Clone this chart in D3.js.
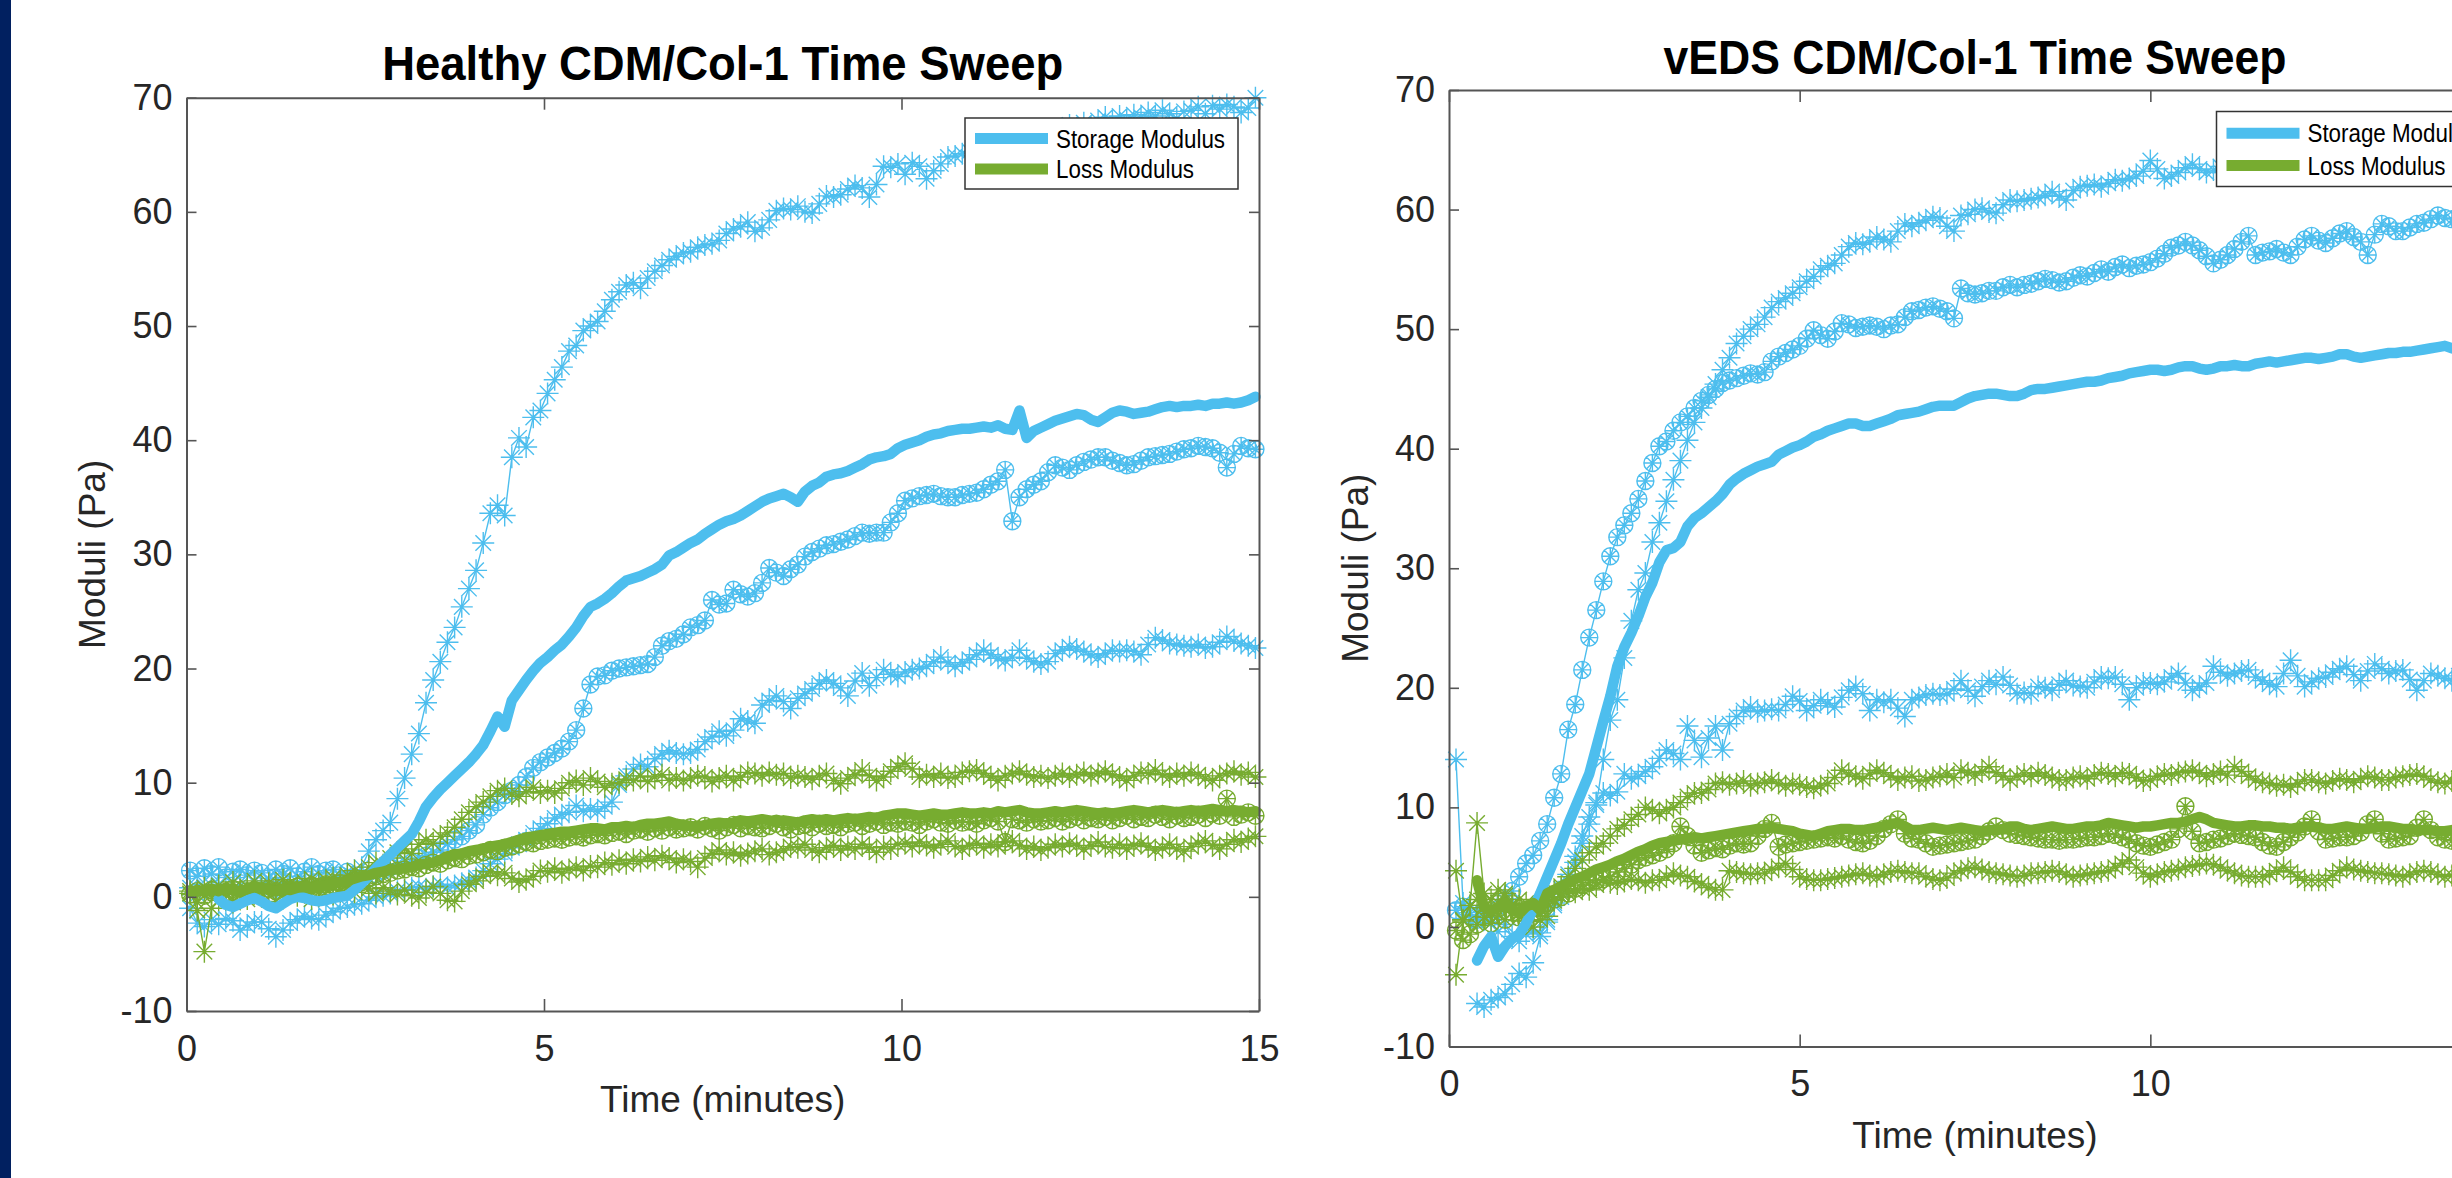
<!DOCTYPE html>
<html>
<head>
<meta charset="utf-8">
<script src="https://cdn.jsdelivr.net/npm/d3@7"></script>
<style>
  body { margin: 0; background: #fff; }
  svg { display: block; }
</style>
</head>
<body>
<div id="chart"></div>
<script>
// Rheometer readings, one every 0.1 min; each series keeps its own start time
const SAMPLE_STEP = 0.1;
const xTicks = [0, 5, 10, 15];
const yTicks = [-10, 0, 10, 20, 30, 40, 50, 60, 70];
const legendLabels = ["Storage Modulus", "Loss Modulus"];

// ---- Healthy CDM/Col-1 ----
const healthyThinStart = 0.05;
const healthyStorMeanStart = 0.45;
const healthyLossMeanStart = 0.05;

// storage, sample A (asterisk, highest)
const healthyStorA = [
  0.8, 0.2, 0.9, 0.4, 1.1, 0.3, 0.7, 1.0, 0.2, 0.6,
  0.9, 0.4, 1.2, 0.5, 0.8, 1.3, 0.6, 1.0, 0.7, 1.2,
  1.0, 1.4, 1.2, 1.8, 2.6, 4.0, 5.0, 5.8, 6.5, 8.6,
  10.4, 12.5, 14.3, 17.0, 19.0, 20.6, 22.3, 23.6, 25.4, 27.0,
  28.6, 31.0, 33.6, 34.3, 33.4, 38.5, 40.2, 39.4, 42.0, 42.6,
  44.1, 45.3, 46.4, 47.8, 48.3, 49.6, 50.0, 50.4, 51.3, 52.3,
  53.0, 53.6, 53.8, 53.3, 54.2, 54.8, 55.3, 55.8, 56.1, 56.4,
  56.5, 56.9, 57.1, 57.2, 57.5, 58.1, 58.5, 58.7, 59.1, 58.3,
  58.6, 59.3, 60.1, 60.3, 60.2, 60.5, 60.0, 59.9, 60.7, 61.4,
  61.3, 61.5, 62.0, 62.3, 62.1, 61.3, 62.4, 64.0, 63.9, 64.2,
  63.3, 64.3, 64.0, 62.9, 63.6, 64.2, 64.8, 64.9, 65.1, 65.3,
  65.6, 65.4, 65.9, 66.1, 65.8, 66.3, 66.5, 66.2, 66.7, 66.9,
  66.6, 67.1, 67.3, 67.6, 67.2, 67.8, 67.5, 68.0, 68.3, 67.9,
  68.4, 68.1, 68.5, 68.3, 68.7, 68.4, 68.9, 68.6, 68.2, 68.8,
  68.9, 69.2, 68.6, 69.3, 69.0, 69.4, 69.2, 68.7, 69.1, 70.0
];
// storage, sample B (circle)
const healthyStorB = [
  2.3, 1.8, 2.5, 2.0, 2.6, 1.7, 2.2, 2.4, 1.9, 2.3,
  2.1, 1.6, 2.4, 2.0, 2.5, 1.8, 2.2, 2.6, 2.0, 2.3,
  2.4, 1.9, 2.2, 1.7, 1.4, 1.6, 2.0, 2.3, 2.6, 2.9,
  3.1, 3.0, 3.4, 3.6, 3.9, 4.1, 4.6, 5.0, 5.3, 5.8,
  6.3, 7.2, 7.8, 8.3, 8.9, 9.3, 9.8, 10.5, 11.3, 11.8,
  12.2, 12.6, 13.0, 13.6, 14.6, 16.5, 18.6, 19.3, 19.4, 19.8,
  20.0, 20.1, 20.2, 20.3, 20.4, 21.0, 22.0, 22.4, 22.6, 23.0,
  23.6, 23.8, 24.2, 26.0, 25.6, 25.7, 26.9, 26.5, 26.3, 26.6,
  27.5, 28.8, 28.4, 28.1, 28.7, 29.1, 29.8, 30.2, 30.5, 30.8,
  30.9, 31.1, 31.3, 31.6, 31.9, 31.8, 31.9, 31.9, 32.8, 33.6,
  34.7, 34.9, 35.1, 35.2, 35.3, 35.1, 35.0, 35.0, 35.2, 35.3,
  35.4, 35.7, 36.1, 36.4, 37.4, 32.9, 35.0, 35.7, 36.1, 36.4,
  37.2, 37.8, 37.6, 37.4, 37.8, 38.1, 38.3, 38.5, 38.5, 38.2,
  38.0, 37.8, 37.9, 38.2, 38.5, 38.6, 38.7, 38.8, 39.0, 39.2,
  39.3, 39.5, 39.4, 39.3, 38.9, 37.6, 38.8, 39.5, 39.3, 39.2
];
// storage, sample C (asterisk, lowest)
const healthyStorC = [
  -1.0, -2.3, -2.6, -2.0, -2.4, -1.9, -2.1, -2.9, -2.5, -2.2,
  -2.2, -2.8, -3.5, -2.9, -2.3, -2.0, -1.7, -1.9, -2.0, -1.6,
  -1.3, -1.0, -0.9, -0.7, -0.6, -0.3, 0.0, 0.1, 0.3, 0.5,
  0.6, 0.8, 0.9, 0.7, 0.9, 1.1, 0.8, 1.0, 1.2, 1.4,
  1.7, 2.3, 2.9, 3.3, 3.8, 4.3, 4.6, 5.0, 5.6, 6.0,
  6.4, 6.9, 7.2, 7.4, 8.0, 7.5, 7.7, 7.5, 7.9, 8.3,
  9.8, 10.6, 11.2, 11.6, 11.4, 12.1, 12.5, 12.8, 12.6, 12.5,
  12.6, 12.9, 13.6, 14.0, 14.5, 14.1, 14.6, 15.6, 15.4, 15.2,
  16.8, 17.2, 17.6, 17.1, 16.5, 17.4, 17.8, 18.2, 18.7, 19.0,
  18.7, 18.3, 17.6, 18.9, 19.6, 18.5, 19.2, 19.9, 19.5, 19.3,
  19.7, 19.9, 20.0, 20.2, 20.6, 21.0, 20.5, 20.2, 20.5, 20.8,
  21.2, 21.6, 21.2, 20.9, 20.7, 21.0, 21.6, 20.9, 20.6, 20.4,
  20.6, 21.3, 21.6, 21.9, 21.7, 21.5, 21.2, 21.0, 21.3, 21.6,
  21.5, 21.6, 21.5, 21.2, 22.1, 22.7, 22.5, 22.2, 22.1, 22.0,
  21.9, 22.1, 21.8, 21.9, 22.3, 22.8, 22.4, 22.2, 22.0, 21.8
];
// storage mean (thick)
const healthyStorMean = [
  -0.2, -0.7, -0.9, -0.6, -0.3, -0.1,
  -0.4, -0.8, -1.0, -0.6, -0.2, 0.0, -0.1, -0.3, -0.4, -0.3,
  -0.1, 0.0, 0.1, 0.6, 1.2, 1.8, 2.5, 3.1, 3.7, 4.3,
  4.9, 5.5, 6.6, 7.9, 8.7, 9.4, 10.0, 10.6, 11.2, 11.8,
  12.5, 13.3, 14.5, 15.8, 14.9, 17.2, 18.1, 19.0, 19.8, 20.5,
  21.0, 21.6, 22.1, 22.8, 23.6, 24.6, 25.4, 25.7, 26.1, 26.6,
  27.2, 27.7, 27.9, 28.1, 28.4, 28.7, 29.1, 29.9, 30.2, 30.6,
  31.0, 31.3, 31.8, 32.2, 32.6, 32.9, 33.1, 33.4, 33.8, 34.2,
  34.6, 34.9, 35.1, 35.3, 35.0, 34.6, 35.5, 36.0, 36.3, 36.8,
  37.0, 37.1, 37.3, 37.6, 37.9, 38.3, 38.5, 38.6, 38.8, 39.3,
  39.6, 39.8, 40.0, 40.3, 40.5, 40.6, 40.8, 40.9, 41.0, 41.0,
  41.1, 41.2, 41.1, 41.3, 41.0, 40.9, 42.6, 40.2, 40.8, 41.1,
  41.4, 41.7, 41.9, 42.1, 42.3, 42.2, 41.8, 41.6, 42.0, 42.4,
  42.6, 42.5, 42.3, 42.4, 42.5, 42.7, 42.9, 43.0, 42.9, 43.0,
  43.0, 43.1, 43.0, 43.2, 43.2, 43.3, 43.2, 43.3, 43.5, 43.8
];
// loss, sample A (asterisk, highest)
const healthyLossA = [
  0.3, -0.5, 0.8, 0.2, 1.0, 0.4, 1.3, 0.6, 0.9, 1.4,
  0.7, 1.2, 0.9, 1.5, 1.1, 0.8, 1.3, 1.6, 1.2, 1.5,
  1.7, 1.4, 1.9, 2.3, 2.0, 2.6, 3.0, 2.8, 3.4, 3.9,
  4.2, 3.8, 4.6, 5.0, 4.7, 5.3, 5.6, 6.1, 6.8, 7.4,
  7.9, 8.3, 8.8, 9.3, 9.5, 9.0, 8.8, 9.2, 9.6, 9.1,
  9.3, 9.1, 9.5, 10.0, 10.2, 9.8, 10.4, 10.1, 9.6, 9.9,
  10.0, 10.3, 10.2, 10.6, 10.1, 10.5, 10.7, 10.2, 10.4, 10.2,
  10.4, 10.6, 10.5, 10.1, 10.4, 10.6, 10.2, 10.5, 10.9, 10.8,
  10.6, 10.9, 10.7, 10.8, 10.4, 10.6, 10.5, 10.3, 10.6, 10.8,
  10.2, 9.9, 10.4, 10.7, 11.1, 10.6, 10.2, 10.5, 11.0, 11.4,
  11.7, 11.2, 10.5, 10.7, 10.5, 10.8, 10.4, 10.5, 10.9, 11.0,
  11.1, 10.8, 10.5, 10.2, 10.6, 10.8, 11.0, 10.7, 10.5, 10.6,
  10.4, 10.6, 10.8, 10.5, 10.7, 10.9, 10.6, 10.8, 11.0, 10.7,
  10.5, 10.2, 10.6, 10.9, 10.8, 11.1, 10.7, 10.5, 10.8, 10.6,
  10.9, 10.7, 10.4, 10.2, 10.6, 10.8, 11.0, 10.7, 10.9, 10.5
];
// loss, sample B (circle)
const healthyLossB = [
  0.2, 0.5, 0.1, 0.6, 0.3, 0.4, 0.7, 0.2, 0.5, 0.6,
  0.4, 0.7, 0.5, 0.8, 0.6, 0.9, 0.7, 1.0, 0.8, 1.1,
  1.0, 1.2, 1.1, 1.4, 1.3, 1.6, 1.8, 2.0, 2.1, 2.3,
  2.4, 2.6, 2.5, 2.8, 3.0, 2.9, 3.2, 3.4, 3.3, 3.6,
  3.7, 3.9, 4.1, 4.0, 4.3, 4.4, 4.6, 4.8, 4.7, 4.9,
  5.0, 5.1, 5.0, 5.2, 5.3, 5.2, 5.4, 5.5, 5.4, 5.6,
  5.7, 5.5, 5.8, 5.9, 5.7, 6.0, 5.8, 6.1, 5.9, 6.0,
  6.1, 5.9, 6.2, 6.0, 5.8, 6.1, 6.3, 6.0, 6.2, 6.1,
  6.0, 6.2, 6.4, 6.1, 5.9, 6.2, 6.3, 6.1, 6.4, 6.2,
  6.3, 6.1, 6.4, 6.5, 6.2, 6.4, 6.6, 6.3, 6.5, 6.4,
  6.6, 6.5, 6.3, 6.6, 6.8, 6.5, 6.4, 6.7, 6.5, 6.6,
  6.4, 6.7, 6.9, 6.6, 4.8, 6.8, 6.7, 6.5, 6.8, 6.6,
  6.7, 6.9, 6.6, 6.8, 7.0, 6.7, 6.9, 6.8, 7.0, 6.7,
  6.9, 7.1, 6.8, 7.0, 6.9, 7.2, 7.0, 6.8, 7.1, 6.9,
  7.0, 7.2, 6.9, 7.3, 7.1, 8.6, 7.0, 7.2, 7.4, 7.1
];
// loss, sample C (asterisk, lowest)
const healthyLossC = [
  0.5, -1.2, -4.8, -1.0, -0.3, 0.2, -0.5, 0.4, -0.2, 0.3,
  0.0, 0.6, -0.4, 0.3, 0.8, 0.1, 0.5, -0.2, 0.4, 0.7,
  0.2, 0.6, 0.9, 0.4, 1.0, 0.7, 0.3, 0.8, 0.5, 0.2,
  0.6, 0.1, -0.1, 0.4, 0.9, 0.3, -0.3, -0.4, 0.5, 1.1,
  1.4, 1.8, 2.2, 1.9, 2.1, 1.6, 1.3, 1.5, 1.8, 2.3,
  2.2, 2.5, 2.1, 2.4, 2.6, 2.3, 2.7, 2.6, 3.0, 2.8,
  3.2, 2.9, 3.3, 3.1, 3.5, 3.2, 3.6, 3.4, 3.0, 3.3,
  3.1, 2.6, 3.4, 3.8, 4.1, 3.7, 3.9, 3.6, 3.8, 4.0,
  4.2, 3.7, 3.9, 4.1, 4.4, 4.3, 4.6, 4.1, 3.9, 4.3,
  4.5, 4.1, 4.4, 4.2, 4.6, 4.3, 3.9, 4.4, 4.2, 4.6,
  4.7, 4.4, 4.8, 4.5, 4.3, 4.6, 4.9, 4.4, 4.2, 4.5,
  4.7, 4.3, 4.6, 4.4, 4.8, 4.9, 4.5, 4.2, 4.4, 4.1,
  4.3, 4.6, 4.4, 4.7, 4.5, 4.2, 4.5, 4.8, 4.4, 4.3,
  4.6, 4.2, 4.5, 4.7, 4.4, 4.1, 4.3, 4.6, 4.2, 4.0,
  4.4, 4.7, 4.9, 4.5, 4.2, 4.6, 5.0, 4.8, 5.1, 5.3
];
// loss mean (thick)
const healthyLossMean = [
  0.4, 0.6, 0.5, 0.7, 0.5, 0.8, 0.6, 0.4, 0.7, 0.9,
  0.8, 0.6, 0.5, 0.7, 0.6, 0.8, 0.9, 0.7, 1.0, 1.0,
  1.1, 1.3, 1.4, 1.6, 1.8, 1.9, 2.1, 2.2, 2.4, 2.4,
  2.5, 2.6, 2.8, 2.9, 3.0, 3.2, 3.5, 3.7, 3.8, 4.0,
  4.1, 4.2, 4.4, 4.5, 4.6, 4.8, 5.0, 5.2, 5.3, 5.4,
  5.5, 5.6, 5.7, 5.7, 5.8, 5.9, 6.0, 6.0, 5.9, 6.1,
  6.1, 6.2, 6.1, 6.3, 6.4, 6.4, 6.5, 6.6, 6.4, 6.3,
  6.2, 6.1, 6.3, 6.4, 6.5, 6.4, 6.5, 6.7, 6.6, 6.7,
  6.8, 6.7, 6.6, 6.7, 6.6, 6.5, 6.7, 6.8, 6.7, 6.8,
  6.7, 6.8, 6.9, 6.8, 6.9, 7.0, 6.9, 7.1, 7.2, 7.3,
  7.3, 7.2, 7.1, 7.2, 7.3, 7.2, 7.2, 7.3, 7.4, 7.3,
  7.3, 7.4, 7.3, 7.5, 7.4, 7.5, 7.6, 7.4, 7.3, 7.3,
  7.4, 7.5, 7.4, 7.5, 7.6, 7.5, 7.4, 7.3, 7.4, 7.3,
  7.4, 7.5, 7.6, 7.5, 7.4, 7.5, 7.6, 7.5, 7.4, 7.5,
  7.6, 7.5, 7.6, 7.7, 7.6, 7.5, 7.6, 7.5, 7.4, 7.5
];

// ---- vEDS CDM/Col-1 ----
const vedsThinStart = 0.1;
const vedsLateStart = 0.4;

// storage, sample A (asterisk, highest)
const vedsStorA = [
  -6.4, -6.7, -6.1, -5.9, -5.6, -4.8, -3.9,
  -4.2, -3.0, -0.8, 0.6, 1.8, 2.5, 3.8, 5.4, 7.0, 8.6,
  10.2, 14.0, 17.3, 19.0, 22.5, 25.6, 28.2, 29.6, 32.2, 33.8,
  35.6, 37.4, 39.0, 40.7, 42.2, 43.4, 44.3, 45.4, 46.6, 47.6,
  48.8, 49.4, 50.0, 50.4, 51.0, 51.8, 52.3, 52.6, 53.0, 53.5,
  54.0, 54.4, 55.0, 55.3, 55.5, 56.2, 56.9, 57.2, 57.1, 57.3,
  57.7, 57.5, 57.3, 58.2, 58.8, 58.6, 58.9, 59.1, 59.4, 59.3,
  58.6, 58.2, 59.5, 59.6, 60.0, 60.1, 59.8, 59.7, 60.4, 60.8,
  60.7, 60.8, 60.9, 61.0, 61.2, 61.5, 61.1, 60.8, 61.6, 61.9,
  62.0, 62.1, 61.9, 62.2, 62.5, 62.4, 62.6, 62.8, 63.2, 64.1,
  63.4, 62.6, 62.8, 63.1, 63.5, 63.8, 63.4, 63.1, 63.3, 63.6,
  63.4, 63.8, 64.0, 63.7, 64.1, 63.9, 64.3, 64.1, 64.4, 64.2,
  64.6, 64.2, 64.7, 64.4, 64.9, 64.3, 64.8, 65.0, 64.6, 64.9,
  65.0, 64.8, 65.1, 64.9, 65.2, 65.0, 65.3, 65.1, 65.4, 65.2,
  65.5, 65.3, 65.6, 65.4
];
// storage, sample B (circle)
const vedsStorB = [
  1.4, 1.7, 1.0, 0.6, 1.2, 0.8, 1.5, 2.2, 3.0, 4.2,
  5.3, 6.0, 7.2, 8.6, 10.8, 12.8, 16.5, 18.6, 21.5, 24.2,
  26.5, 28.9, 31.0, 32.6, 33.6, 34.6, 35.8, 37.3, 38.8, 40.2,
  40.6, 41.5, 42.2, 42.7, 43.4, 44.0, 44.5, 45.0, 45.5, 45.7,
  45.9, 46.1, 46.3, 46.2, 46.4, 47.3, 47.7, 48.0, 48.3, 48.6,
  49.2, 49.9, 49.5, 49.2, 49.8, 50.5, 50.4, 50.1, 50.2, 50.3,
  50.2, 50.0, 50.3, 50.4, 51.0, 51.5, 51.6, 51.8, 51.9, 51.7,
  51.5, 50.9, 53.4, 53.0, 52.9, 53.0, 53.2, 53.2, 53.5, 53.7,
  53.5, 53.7, 53.8, 54.0, 54.2, 54.1, 53.9, 54.0, 54.3, 54.5,
  54.4, 54.7, 55.0, 54.8, 55.2, 55.4, 55.1, 55.3, 55.4, 55.6,
  55.9, 56.3, 56.8, 57.0, 57.3, 57.0, 56.6, 56.1, 55.5, 55.8,
  56.2, 56.7, 57.3, 57.8, 56.2, 56.4, 56.5, 56.7, 56.4, 56.2,
  56.9, 57.5, 57.8, 57.4, 57.2, 57.6, 58.0, 58.2, 57.7, 57.3,
  56.2, 57.9, 58.8, 58.6, 58.2, 58.2, 58.5, 58.8, 58.9, 59.2,
  59.5, 59.3, 59.2, 59.0
];
// storage, sample C (asterisk, lowest)
const vedsStorC = [
  14.0, 2.0, 1.2, 0.4, 1.0, 0.3, -0.4, 0.2, -0.8, -1.2,
  -0.6, -0.3, -0.5, 0.4, 2.0, 3.2, 4.4, 5.9, 7.6, 9.2,
  10.4, 11.2, 11.0, 11.3, 12.8, 12.4, 12.6, 13.0, 13.4, 14.1,
  14.8, 14.5, 14.0, 16.8, 15.6, 14.2, 15.8, 16.8, 14.8, 17.0,
  17.6, 18.1, 18.4, 18.0, 18.1, 18.2, 18.1, 18.6, 19.3, 18.9,
  18.1, 18.5, 19.0, 18.7, 18.4, 19.2, 19.8, 20.1, 19.5, 18.1,
  19.0, 18.8, 19.0, 18.3, 17.6, 19.0, 19.2, 19.4, 19.5, 19.4,
  19.5, 19.9, 20.6, 19.8, 19.3, 20.1, 20.6, 20.3, 20.9, 20.2,
  19.5, 19.6, 19.5, 20.1, 20.0, 19.8, 20.3, 20.6, 20.2, 20.1,
  20.0, 20.5, 20.9, 20.8, 20.9, 20.3, 19.0, 20.0, 20.4, 20.4,
  20.3, 20.5, 20.9, 21.2, 20.4, 19.8, 20.1, 20.4, 21.8, 21.3,
  21.0, 21.2, 21.4, 21.5, 20.9, 20.6, 20.3, 20.1, 21.2, 22.3,
  21.0, 20.1, 20.5, 20.8, 20.9, 21.3, 21.6, 21.8, 21.1, 20.6,
  21.4, 22.0, 21.6, 21.2, 21.4, 21.5, 20.7, 19.8, 20.6, 21.2,
  21.0, 20.8, 20.6, 21.0
];
// storage mean (thick)
const vedsStorMean = [
  -2.8, -1.6, -0.8, -2.5, -1.6, -1.0, -0.6,
  0.3, 1.5, 2.8, 4.2, 5.6, 7.0, 8.6, 10.0, 11.4, 12.8,
  15.0, 17.2, 19.3, 21.8, 23.4, 24.6, 26.0, 27.6, 28.8, 30.5,
  31.5, 31.7, 32.2, 33.5, 34.2, 34.6, 35.1, 35.6, 36.2, 37.0,
  37.5, 37.9, 38.2, 38.5, 38.7, 38.9, 39.5, 39.8, 40.1, 40.3,
  40.6, 41.0, 41.2, 41.5, 41.7, 41.9, 42.1, 42.1, 41.9, 41.9,
  42.1, 42.3, 42.5, 42.8, 42.9, 43.0, 43.1, 43.3, 43.5, 43.6,
  43.6, 43.6, 43.9, 44.2, 44.4, 44.5, 44.6, 44.6, 44.5, 44.4,
  44.4, 44.6, 44.9, 45.0, 45.0, 45.1, 45.2, 45.3, 45.4, 45.5,
  45.6, 45.6, 45.7, 45.9, 46.0, 46.1, 46.3, 46.4, 46.5, 46.6,
  46.6, 46.5, 46.6, 46.8, 46.9, 46.9, 46.7, 46.6, 46.7, 46.9,
  46.9, 47.0, 46.9, 46.9, 47.1, 47.2, 47.3, 47.2, 47.3, 47.4,
  47.5, 47.6, 47.6, 47.5, 47.6, 47.7, 47.9, 47.9, 47.7, 47.6,
  47.7, 47.8, 47.9, 48.0, 48.0, 48.1, 48.1, 48.2, 48.3, 48.4,
  48.5, 48.6, 48.4, 48.2
];
// loss, sample A (asterisk, highest)
const vedsLossA = [
  4.7, 0.5, 1.8, 8.7, 2.8, 2.3, 3.1, 2.6, 1.9, 2.3,
  2.0, 1.4, 1.8, 2.5, 3.0, 3.4, 4.2, 4.9, 5.6, 6.2,
  6.7, 7.0, 7.6, 8.2, 8.5, 9.0, 9.4, 10.0, 9.8, 9.5,
  9.8, 10.0, 10.4, 10.9, 11.2, 11.2, 11.5, 12.0, 12.1, 11.9,
  12.0, 12.2, 11.8, 12.0, 12.1, 12.3, 12.0, 11.8, 12.0, 11.9,
  11.7, 11.6, 11.8, 12.0, 12.5, 13.1, 12.8, 12.6, 12.4, 12.8,
  13.1, 12.9, 12.6, 12.3, 12.5, 12.6, 12.2, 12.3, 12.5, 12.6,
  12.8, 12.5, 13.1, 12.9, 12.7, 13.0, 13.4, 12.9, 12.6, 12.3,
  12.6, 12.8, 12.6, 12.9, 12.7, 12.5, 12.3, 12.3, 12.5, 12.6,
  12.4, 12.7, 12.9, 12.8, 12.6, 12.9, 12.8, 12.5, 12.2, 12.3,
  12.6, 12.8, 12.7, 12.9, 13.0, 13.1, 12.9, 12.6, 12.8, 13.0,
  12.7, 13.4, 13.0, 12.6, 12.3, 12.1, 12.0, 11.8, 11.9, 11.7,
  12.0, 12.3, 12.3, 12.1, 12.0, 12.2, 12.4, 12.3, 12.1, 12.4,
  12.6, 12.5, 12.3, 12.3, 12.5, 12.6, 12.7, 12.8, 12.6, 12.3,
  12.1, 12.0, 12.2, 12.4
];
// loss, sample B (circle)
const vedsLossB = [
  -0.3, -1.1, -0.6, 0.2, 0.8, 0.3, 1.0, 0.6, 1.2, 0.8,
  0.5, 1.1, 1.6, 2.0, 2.3, 2.5, 2.8, 3.2, 3.5, 3.7,
  3.9, 4.0, 4.2, 4.6, 4.9, 5.2, 5.6, 5.8, 6.0, 6.2,
  6.5, 7.0, 8.4, 7.6, 6.8, 6.2, 6.4, 6.6, 6.5, 6.8,
  7.0, 6.9, 7.0, 7.6, 8.2, 8.7, 6.7, 6.9, 7.0, 7.1,
  7.2, 7.3, 7.4, 7.5, 7.4, 7.6, 7.3, 7.1, 7.0, 7.2,
  7.6, 8.2, 8.6, 9.0, 7.8, 7.4, 7.3, 7.0, 6.7, 6.8,
  6.9, 7.0, 7.1, 7.2, 7.3, 7.6, 8.0, 8.4, 8.1, 7.8,
  7.7, 7.6, 7.5, 7.4, 7.3, 7.3, 7.2, 7.3, 7.3, 7.4,
  7.5, 7.5, 7.6, 7.8, 7.7, 7.5, 7.3, 7.0, 6.8, 6.7,
  6.9, 7.1, 7.3, 8.2, 10.1, 8.0, 7.0, 7.1, 7.3, 7.4,
  7.6, 7.8, 7.7, 7.6, 7.5, 7.1, 6.8, 6.7, 7.1, 7.5,
  7.9, 8.4, 9.0, 8.0, 7.3, 7.4, 7.5, 7.5, 7.6, 7.9,
  8.6, 9.0, 7.8, 7.3, 7.4, 7.5, 7.6, 8.3, 9.0, 8.1,
  7.5, 7.3, 7.2, 7.4
];
// loss, sample C (asterisk, lowest)
const vedsLossC = [
  -4.0, 0.6, 1.8, 2.3, 1.6, 1.1, 2.0, 2.8, 1.8, 1.1,
  0.5, 0.0, 0.6, 0.9, 2.2, 2.8, 3.1, 2.9, 3.2, 3.1,
  3.5, 3.9, 3.7, 3.6, 3.8, 4.0, 3.9, 3.7, 3.9, 3.9,
  4.2, 4.5, 4.3, 4.2, 3.8, 3.6, 3.3, 3.1, 3.1, 4.7,
  4.6, 4.5, 4.4, 4.5, 4.5, 4.8, 5.0, 5.3, 4.8, 4.2,
  4.0, 3.9, 3.9, 4.0, 4.1, 4.2, 4.3, 4.4, 4.5, 4.3,
  4.2, 4.4, 4.6, 4.7, 4.6, 4.5, 4.5, 4.2, 4.0, 3.9,
  4.1, 4.5, 4.7, 4.9, 5.0, 4.8, 4.6, 4.5, 4.4, 4.3,
  4.2, 4.3, 4.5, 4.5, 4.6, 4.7, 4.6, 4.4, 4.2, 4.3,
  4.4, 4.5, 4.6, 4.7, 5.0, 5.3, 5.6, 5.0, 4.5, 4.2,
  4.4, 4.6, 4.7, 4.8, 5.0, 5.1, 5.2, 5.3, 5.2, 5.0,
  4.7, 4.5, 4.3, 4.2, 4.2, 4.2, 4.4, 4.7, 5.0, 4.6,
  4.2, 3.9, 3.9, 3.9, 3.9, 4.3, 4.7, 5.0, 4.8, 4.7,
  4.6, 4.5, 4.5, 4.4, 4.3, 4.2, 4.4, 4.6, 4.7, 4.6,
  4.4, 4.2, 4.3, 4.4
];
// loss mean (thick)
const vedsLossMean = [
  3.9, 1.6, 1.4, 1.6, 2.0, 1.5, 1.1,
  1.7, 2.0, 1.4, 2.8, 3.1, 3.4, 3.7, 4.0, 4.2, 4.5,
  4.8, 5.0, 5.2, 5.5, 5.7, 6.0, 6.3, 6.5, 6.8, 7.0,
  7.1, 7.2, 7.3, 7.4, 7.5, 7.4, 7.5, 7.6, 7.7, 7.8,
  7.9, 8.0, 8.1, 8.2, 8.2, 8.3, 8.2, 8.1, 8.0, 7.8,
  7.7, 7.6, 7.8, 8.0, 8.1, 8.2, 8.2, 8.1, 8.1, 8.2,
  8.3, 8.4, 8.6, 8.7, 8.4, 8.1, 8.1, 8.2, 8.3, 8.2,
  8.1, 8.2, 8.3, 8.2, 8.1, 8.0, 8.1, 8.1, 8.2, 8.4,
  8.4, 8.2, 8.1, 8.2, 8.3, 8.4, 8.3, 8.2, 8.2, 8.3,
  8.4, 8.4, 8.5, 8.7, 8.6, 8.5, 8.4, 8.3, 8.4, 8.4,
  8.5, 8.6, 8.7, 8.7, 8.8, 9.0, 9.2, 9.0, 8.7, 8.6,
  8.5, 8.4, 8.4, 8.5, 8.5, 8.4, 8.4, 8.3, 8.3, 8.2,
  8.3, 8.4, 8.4, 8.3, 8.2, 8.2, 8.3, 8.4, 8.3, 8.2,
  8.2, 8.3, 8.4, 8.4, 8.3, 8.2, 8.2, 8.1, 8.1, 8.1,
  8.0, 8.0, 8.1, 8.0
];

// ---- styling ----
const BLUE = "#4DBEEE";
const GREEN = "#77AC30";
const FONT = "'Liberation Sans', Arial, Helvetica, sans-serif";
const TEXT_COLOR = "#262626";
const AXIS_COLOR = "#555";

const W = 2452, H = 1178;

const panels = [
  {
    title: "Healthy CDM/Col-1 Time Sweep",
    left: 186.5, right: 1259, top: 97.7, bottom: 1011,
    titleY: 80, titleWidth: 681, ylabelX: 105, xlabelGap: 101,
    legend: {x: 965, y: 118, w: 273, h: 71},
    series: [
      {values: healthyStorA, start: healthyThinStart, color: BLUE, marker: "star"},
      {values: healthyStorB, start: healthyThinStart, color: BLUE, marker: "circle"},
      {values: healthyStorC, start: healthyThinStart, color: BLUE, marker: "star"},
      {values: healthyLossA, start: healthyThinStart, color: GREEN, marker: "star"},
      {values: healthyLossB, start: healthyThinStart, color: GREEN, marker: "circle"},
      {values: healthyLossC, start: healthyThinStart, color: GREEN, marker: "star"},
      {values: healthyStorMean, start: healthyStorMeanStart, color: BLUE, marker: null},
      {values: healthyLossMean, start: healthyLossMeanStart, color: GREEN, marker: null}
    ]
  },
  {
    title: "vEDS CDM/Col-1 Time Sweep",
    left: 1449, right: 2501, top: 90, bottom: 1046.5,
    titleY: 74, titleWidth: 623, ylabelX: 1368, xlabelGap: 101,
    legend: {x: 2216.5, y: 111.5, w: 273, h: 75},
    series: [
      {values: vedsStorA, start: vedsLateStart, color: BLUE, marker: "star"},
      {values: vedsStorB, start: vedsThinStart, color: BLUE, marker: "circle"},
      {values: vedsStorC, start: vedsThinStart, color: BLUE, marker: "star"},
      {values: vedsLossA, start: vedsThinStart, color: GREEN, marker: "star"},
      {values: vedsLossB, start: vedsThinStart, color: GREEN, marker: "circle"},
      {values: vedsLossC, start: vedsThinStart, color: GREEN, marker: "star"},
      {values: vedsStorMean, start: vedsLateStart, color: BLUE, marker: null},
      {values: vedsLossMean, start: vedsLateStart, color: GREEN, marker: null}
    ]
  }
];

const svg = d3.select("#chart").append("svg")
  .attr("width", W)
  .attr("height", H)
  .attr("viewBox", "0 0 " + W + " " + H);

svg.append("rect").attr("width", W).attr("height", H).attr("fill", "#fff");
// navy strip on the left edge of the slide
svg.append("rect").attr("x", 0).attr("y", 0).attr("width", 11).attr("height", H).attr("fill", "#012060");

// marker shapes as path strings
function starPath(px, py, r) {
  const a = r * Math.SQRT1_2;
  return "M" + (px - r) + "," + py + "h" + (2 * r) +
    "M" + px + "," + (py - r) + "v" + (2 * r) +
    "M" + (px - a) + "," + (py - a) + "l" + (2 * a) + "," + (2 * a) +
    "M" + (px - a) + "," + (py + a) + "l" + (2 * a) + "," + (-2 * a);
}
function circlePath(px, py, r) {
  return "M" + (px + r) + "," + py +
    "a" + r + "," + r + " 0 1,0 " + (-2 * r) + ",0" +
    "a" + r + "," + r + " 0 1,0 " + (2 * r) + ",0";
}

function toPoints(values, start) {
  return values.map(function(v, i) { return {t: start + i * SAMPLE_STEP, v: v}; });
}

// plain hyphen for negatives, like the original figure
const tickFmt = function(d) { return String(d); };

panels.forEach(function(p) {
  const x = d3.scaleLinear().domain([0, 15]).range([p.left, p.right]);
  const y = d3.scaleLinear().domain([-10, 70]).range([p.bottom, p.top]);
  const g = svg.append("g");

  const line = d3.line()
    .x(function(d) { return x(d.t); })
    .y(function(d) { return y(d.v); });

  // data
  p.series.forEach(function(s) {
    const pts = toPoints(s.values, s.start);
    if (s.marker) {
      g.append("path")
        .attr("d", line(pts))
        .attr("fill", "none")
        .attr("stroke", s.color)
        .attr("stroke-width", 1.4)
        .attr("stroke-linejoin", "round");
      let d = "";
      pts.forEach(function(pt) {
        const px = x(pt.t), py = y(pt.v);
        if (s.marker === "circle") d += circlePath(px, py, 8.5) + starPath(px, py, 8.5);
        else d += starPath(px, py, 11);
      });
      g.append("path")
        .attr("d", d)
        .attr("fill", "none")
        .attr("stroke", s.color)
        .attr("stroke-width", 1.4);
    } else {
      g.append("path")
        .attr("d", line(pts))
        .attr("fill", "none")
        .attr("stroke", s.color)
        .attr("stroke-width", 10.5)
        .attr("stroke-linejoin", "round")
        .attr("stroke-linecap", "round");
    }
  });

  // only label ticks that land on the slide
  const shownX = xTicks.filter(function(t) { return x(t) < W - 20; });

  // axes (box with inward ticks on all four sides)
  const xAxis = g.append("g")
    .attr("transform", "translate(0," + p.bottom + ")")
    .call(d3.axisBottom(x).tickValues(shownX).tickFormat(tickFmt).tickSizeInner(-12).tickSizeOuter(0).tickPadding(24));
  const yAxis = g.append("g")
    .attr("transform", "translate(" + p.left + ",0)")
    .call(d3.axisLeft(y).tickValues(yTicks).tickFormat(tickFmt).tickSizeInner(-10).tickSizeOuter(0).tickPadding(14));
  const xTop = g.append("g")
    .attr("transform", "translate(0," + p.top + ")")
    .call(d3.axisTop(x).tickValues(xTicks).tickSizeInner(-12).tickSizeOuter(0).tickFormat(""));
  const yRight = g.append("g")
    .attr("transform", "translate(" + p.right + ",0)")
    .call(d3.axisRight(y).tickValues(yTicks).tickSizeInner(-10).tickSizeOuter(0).tickFormat(""));

  [xAxis, yAxis, xTop, yRight].forEach(function(a) {
    a.select(".domain").attr("stroke", AXIS_COLOR).attr("stroke-width", 2);
    a.selectAll(".tick line").attr("stroke", AXIS_COLOR).attr("stroke-width", 1.6);
    a.selectAll(".tick text")
      .attr("font-family", FONT)
      .attr("font-size", 36)
      .attr("fill", TEXT_COLOR);
  });

  // title
  g.append("text")
    .attr("x", (p.left + p.right) / 2)
    .attr("y", p.titleY)
    .attr("text-anchor", "middle")
    .attr("font-family", FONT)
    .attr("font-weight", "bold")
    .attr("font-size", 49)
    .attr("textLength", p.titleWidth)
    .attr("lengthAdjust", "spacingAndGlyphs")
    .attr("fill", "#000")
    .text(p.title);

  // axis labels
  g.append("text")
    .attr("x", (p.left + p.right) / 2)
    .attr("y", p.bottom + p.xlabelGap)
    .attr("text-anchor", "middle")
    .attr("font-family", FONT)
    .attr("font-size", 37)
    .attr("fill", TEXT_COLOR)
    .text("Time (minutes)");

  g.append("text")
    .attr("transform", "translate(" + p.ylabelX + "," + ((p.top + p.bottom) / 2) + ") rotate(-90)")
    .attr("text-anchor", "middle")
    .attr("font-family", FONT)
    .attr("font-size", 37)
    .attr("fill", TEXT_COLOR)
    .text("Moduli (Pa)");

  // legend
  const lg = g.append("g").attr("transform", "translate(" + p.legend.x + "," + p.legend.y + ")");
  lg.append("rect")
    .attr("width", p.legend.w)
    .attr("height", p.legend.h)
    .attr("fill", "#fff")
    .attr("stroke", "#333")
    .attr("stroke-width", 1.5);
  [BLUE, GREEN].forEach(function(c, i) {
    const cy = p.legend.h * (0.29 + i * 0.43);
    lg.append("line")
      .attr("x1", 10).attr("x2", 83)
      .attr("y1", cy).attr("y2", cy)
      .attr("stroke", c)
      .attr("stroke-width", 11);
    lg.append("text")
      .attr("x", 91)
      .attr("y", cy + 9)
      .attr("font-family", FONT)
      .attr("font-size", 25)
      .attr("textLength", i === 0 ? 169 : 138)
      .attr("lengthAdjust", "spacingAndGlyphs")
      .attr("fill", "#000")
      .text(legendLabels[i]);
  });
});
</script>
</body>
</html>
